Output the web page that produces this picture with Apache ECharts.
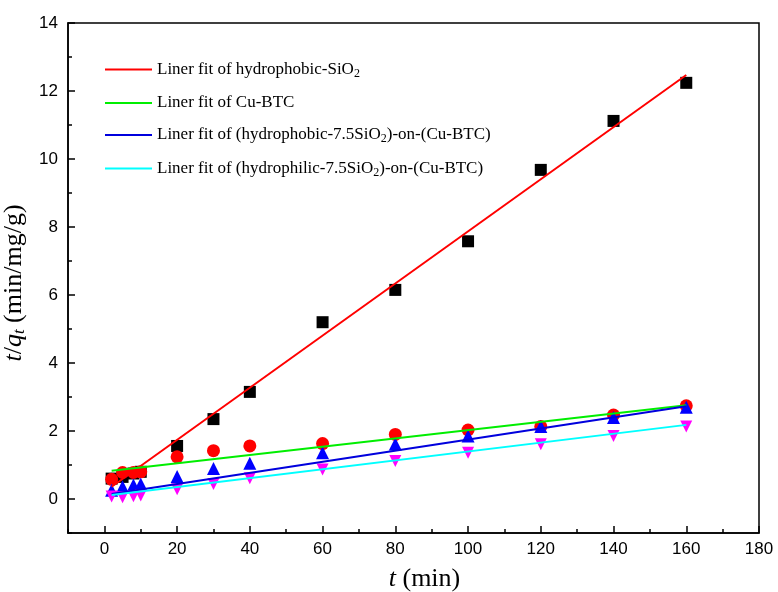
<!DOCTYPE html>
<html><head><meta charset="utf-8">
<script src="https://cdn.jsdelivr.net/npm/echarts@6/dist/echarts.min.js"></script>
<style>html,body{margin:0;padding:0;background:#fff}#c{width:778px;height:592px}</style>
</head><body><div id="c"></div>
<script>
// time points (min)
const times = [2, 5, 8, 10, 20, 30, 40, 60, 80, 100, 120, 140, 160];
// t/qt values
const hydrophobicSiO2 = [0.60, 0.65, 0.75, 0.80, 1.56, 2.35, 3.15, 5.20, 6.15, 7.58, 9.68, 11.12, 12.24];
const cuBTC = [0.58, 0.78, 0.78, 0.80, 1.24, 1.42, 1.56, 1.63, 1.90, 2.03, 2.13, 2.47, 2.74];
const hydrophobicOn = [0.26, 0.36, 0.41, 0.44, 0.66, 0.90, 1.05, 1.36, 1.62, 1.85, 2.13, 2.40, 2.70];
const hydrophilicOn = [0.07, 0.05, 0.08, 0.10, 0.29, 0.44, 0.61, 0.87, 1.12, 1.36, 1.61, 1.85, 2.13];
// linear fit end points
const fitX = [2, 160];
const fitHydrophobicSiO2 = [0.36, 12.47];
const fitCuBTC = [0.83, 2.76];
const fitHydrophobicOn = [0.15, 2.73];
const fitHydrophilicOn = [0.12, 2.18];
// ticks
const xLabels = [0, 20, 40, 60, 80, 100, 120, 140, 160, 180];
const xMinor = [-10, 10, 30, 50, 70, 90, 110, 130, 150, 170];
const yLabels = [0, 2, 4, 6, 8, 10, 12, 14];
const yMinor = [-1, 1, 3, 5, 7, 9, 11, 13];

const legendNames = {
  'fit1': 'Liner fit of hydrophobic-SiO{sub|2}',
  'fit2': 'Liner fit of Cu-BTC',
  'fit3': 'Liner fit of (hydrophobic-7.5SiO{sub|2})-on-(Cu-BTC)',
  'fit4': 'Liner fit of (hydrophilic-7.5SiO{sub|2})-on-(Cu-BTC)'
};
const pairs = ys => times.map((t, i) => [t, ys[i]]);
const fitPairs = ys => fitX.map((t, i) => [t, ys[i]]);

const chart = echarts.init(document.getElementById('c'), null, {renderer: 'canvas'});
const serif = '"Liberation Serif","Times New Roman",serif';
const sans = '"Liberation Sans",Arial,sans-serif';
const tickAxis = (kind, vals, len) => ({
  type: 'value', gridIndex: 0,
  min: kind === 'x' ? -10 : -1, max: kind === 'x' ? 180 : 14,
  position: kind === 'x' ? 'bottom' : 'left',
  splitLine: {show: false},
  axisLine: {show: false, onZero: false},
  axisTick: {show: true, inside: true, length: len, customValues: vals, lineStyle: {color: '#000', width: 1.5}},
  axisLabel: {show: false}
});
chart.setOption({
  animation: false,
  backgroundColor: '#fff',
  grid: {left: 68, right: 19, top: 23, bottom: 59, outerBoundsMode: 'none', containLabel: false,
    show: true, borderColor: '#000', borderWidth: 1.5},
  legend: {
    data: ['fit1', 'fit2', 'fit3', 'fit4'],
    orient: 'vertical', left: 100, top: 56,
    icon: 'rect', itemWidth: 47, itemHeight: 2, itemGap: 15,
    formatter: n => legendNames[n],
    textStyle: {fontFamily: serif, fontSize: 17, color: '#000',
      rich: {sub: {fontFamily: serif, fontSize: 12, verticalAlign: 'bottom', padding: [8, 0, 0, 0]}}}
  },
  xAxis: [
    {
      type: 'value', min: -10, max: 180, gridIndex: 0, position: 'bottom',
      splitLine: {show: false},
      name: '{i|t} (min)', nameLocation: 'middle', nameGap: 33,
      nameTextStyle: {fontFamily: serif, fontSize: 26, color: '#000', padding: [0, 0, 0, 22],
        rich: {i: {fontFamily: serif, fontStyle: 'italic', fontSize: 26}}},
      axisLine: {show: true, onZero: false, lineStyle: {color: '#000', width: 1.5}},
      axisTick: {show: false},
      axisLabel: {customValues: xLabels, fontFamily: sans, fontSize: 17, color: '#000', margin: 8}
    },
    tickAxis('x', xLabels, 7),
    tickAxis('x', xMinor, 4)
  ],
  yAxis: [
    {
      type: 'value', min: -1, max: 14, gridIndex: 0, position: 'left',
      splitLine: {show: false},
      name: '{i|t}/{i|q}{s|t} (min/mg/g)', nameLocation: 'middle', nameGap: 36,
      nameTextStyle: {fontFamily: serif, fontSize: 26, color: '#000', padding: [0, 10, 0, 0],
        rich: {i: {fontFamily: serif, fontStyle: 'italic', fontSize: 26}, s: {fontFamily: serif, fontStyle: 'italic', fontSize: 17, verticalAlign: 'bottom', padding: [12, 0, 0, 0]}}},
      axisLine: {show: true, onZero: false, lineStyle: {color: '#000', width: 1.5}},
      axisTick: {show: false},
      axisLabel: {customValues: yLabels, fontFamily: sans, fontSize: 17, color: '#000', margin: 10}
    },
    tickAxis('y', yLabels, 7),
    tickAxis('y', yMinor, 4)
  ],
  series: [
    {name: 's1', type: 'scatter', data: pairs(hydrophobicSiO2), symbol: 'rect', symbolSize: 12, itemStyle: {color: '#000', opacity: 1}},
    {name: 's2', type: 'scatter', data: pairs(cuBTC), symbol: 'circle', symbolSize: 13, itemStyle: {color: '#ff0000', opacity: 1}},
    {name: 's3', type: 'scatter', data: pairs(hydrophobicOn), symbol: 'triangle', symbolSize: 13, itemStyle: {color: '#0000ff', opacity: 1}},
    {name: 's4', type: 'scatter', data: pairs(hydrophilicOn), symbol: 'triangle', symbolRotate: 180, symbolSize: 12, itemStyle: {color: '#ff00ff', opacity: 1}},
    {name: 'fit1', type: 'line', data: fitPairs(fitHydrophobicSiO2), showSymbol: false, symbol: 'none', lineStyle: {color: '#ff0000', width: 2}, itemStyle: {color: '#ff0000'}},
    {name: 'fit2', type: 'line', data: fitPairs(fitCuBTC), showSymbol: false, symbol: 'none', lineStyle: {color: '#00ee00', width: 2}, itemStyle: {color: '#00ee00'}},
    {name: 'fit3', type: 'line', data: fitPairs(fitHydrophobicOn), showSymbol: false, symbol: 'none', lineStyle: {color: '#0000dd', width: 2}, itemStyle: {color: '#0000dd'}},
    {name: 'fit4', type: 'line', data: fitPairs(fitHydrophilicOn), showSymbol: false, symbol: 'none', lineStyle: {color: '#00ffff', width: 2}, itemStyle: {color: '#00ffff'}}
  ]
});
</script></body></html>
